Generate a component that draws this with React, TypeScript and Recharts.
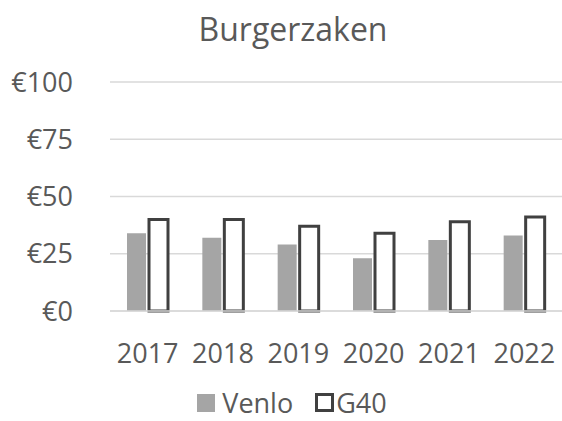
import React from 'react';
import { BarChart, Bar, XAxis, YAxis, CartesianGrid, Legend } from 'recharts';

const years = ['2017', '2018', '2019', '2020', '2021', '2022'];
const venlo = [34, 32, 29, 23, 31, 33];
const g40 = [40, 40, 37, 34, 39, 41];
const yTicks = [0, 25, 50, 75, 100];

const TEXT = '#595959';
const FONT = '"Open Sans", sans-serif';

const data = years.map((year, i) => ({ year, Venlo: venlo[i], G40: g40[i] }));

// legend sits as low as possible without its text box running off the page
const renderLegend = () => (
  <div
    style={{
      display: 'flex',
      justifyContent: 'center',
      alignItems: 'center',
      fontFamily: FONT,
      fontSize: 27,
      lineHeight: '37px',
      color: TEXT,
      height: 37,
      marginTop: 9,
      paddingLeft: 22,
    }}
  >
    <span style={{ display: 'inline-block', width: 18, height: 18, background: '#A5A5A5', marginRight: 7 }} />
    <span style={{ marginRight: 22 }}>Venlo</span>
    <span
      style={{
        display: 'inline-block',
        width: 13,
        height: 13,
        background: '#fff',
        border: '3px solid #404040',
        marginRight: 2,
      }}
    />
    <span>G40</span>
  </div>
);

const App: React.FC = () => {
  return (
    <div style={{ position: 'absolute', left: 0, top: 0, width: 562, height: 421, background: '#fff', overflow: 'hidden' }}>
      <div
        style={{
          position: 'absolute',
          top: 7,
          left: 0,
          width: 586,
          textAlign: 'center',
          fontFamily: FONT,
          fontSize: 32,
          color: TEXT,
        }}
      >
        Burgerzaken
      </div>
      <BarChart
        width={562}
        height={421}
        data={data}
        margin={{ top: 82, right: 0, bottom: 0, left: 0 }}
        barCategoryGap="23%"
        barGap={3}
      >
        <CartesianGrid vertical={false} stroke="#D9D9D9" strokeWidth={1.5} />
        <XAxis
          dataKey="year"
          axisLine={{ stroke: '#D9D9D9', strokeWidth: 1.5 }}
          tickLine={false}
          tickMargin={27}
          height={64}
          tick={{ fill: TEXT, fontSize: 27, fontFamily: FONT }}
        />
        <YAxis
          domain={[0, 100]}
          ticks={yTicks}
          width={110}
          axisLine={false}
          tickLine={false}
          tickMargin={31}
          tickFormatter={(v: number) => `€${v}`}
          tick={{ fill: TEXT, fontSize: 27, fontFamily: FONT }}
        />
        <Legend verticalAlign="bottom" height={46} content={renderLegend} />
        <Bar dataKey="Venlo" fill="#A5A5A5" barSize={19} isAnimationActive={false} />
        <Bar
          dataKey="G40"
          fill="#FFFFFF"
          stroke="#404040"
          strokeWidth={3}
          barSize={19}
          isAnimationActive={false}
        />
      </BarChart>
    </div>
  );
};

export default App;
